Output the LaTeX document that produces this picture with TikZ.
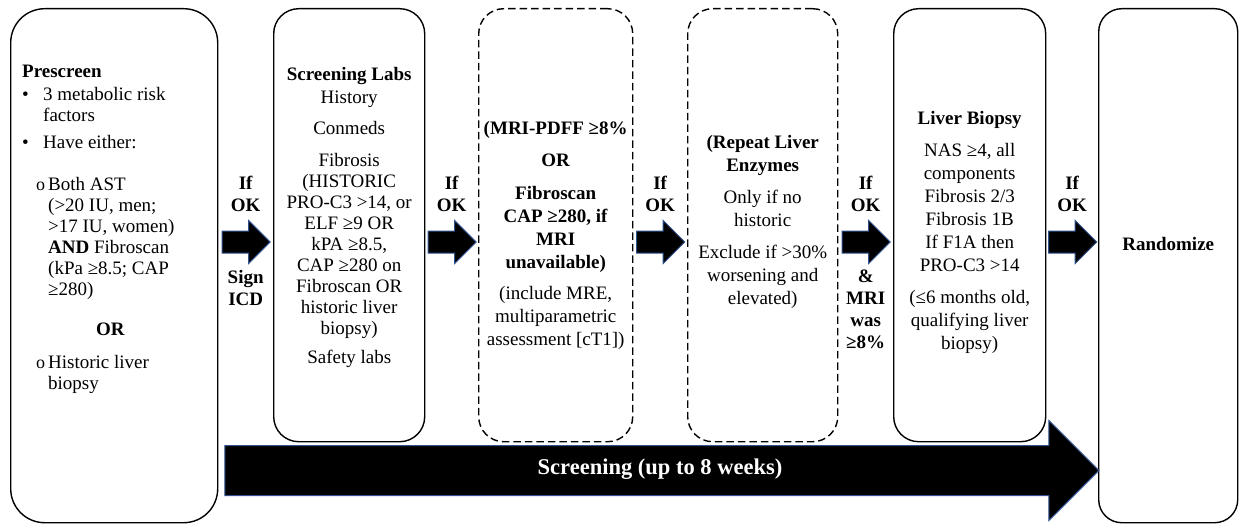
\documentclass[tikz,border=0pt]{standalone}
\usepackage{fontspec}
\setmainfont{Liberation Serif}
\usetikzlibrary{positioning,shapes.arrows,calc}
\definecolor{edgeblue}{HTML}{2F528F}
\tikzset{
  stage/.style={draw, line width=1.4pt, rounded corners=25pt, minimum height=433pt, inner sep=0pt, anchor=north west},
  optional/.style={stage, dash pattern=on 7.5pt off 4pt},
  gate/.style={single arrow, fill=black, draw=edgeblue, line width=1pt, minimum height=48pt, single arrow head extend=10.5pt,
               inner xsep=0pt, inner ysep=10.5pt, anchor=tail},
  body/.style={inner sep=0pt, align=center, font=\fontsize{19}{23}\selectfont, anchor=north},
  cond/.style={inner sep=0pt, align=center, font=\bfseries\fontsize{19}{22}\selectfont},
}
\newcommand{\optitem}{\hspace*{14pt}\makebox[12pt][l]{\fontsize{18}{18}\selectfont o}}
\begin{document}
\begin{tikzpicture}[x=1pt, y=-1pt]
    \useasboundingbox (0,0) rectangle (1241,527);
    % stages
    \node[stage, rounded corners=34pt, minimum width=207pt, minimum height=514pt] (pre) at (10,8) {};
    \node[stage, minimum width=151pt] (labs) at (273,8) {};
    \node[optional, minimum width=154pt] (mri) at (478,8) {};
    \node[optional, minimum width=150pt] (enz) at (687,8) {};
    \node[stage, minimum width=152pt] (bx) at (893,8) {};
    \node[stage, rounded corners=23pt, minimum width=139pt, minimum height=514pt] (rand) at (1098,8) {};
    % texts
    \node[body, font=\fontsize{19}{21}\selectfont, anchor=north west, align=left] (pretxt) at ([xshift=12pt, yshift=-57pt]pre.north west) {%
        \textbf{Prescreen}\\[2pt]
        \makebox[21pt][l]{•}3 metabolic risk\\
        \hspace*{21pt}factors\\[6pt]
        \makebox[21pt][l]{•}Have either:\\[21pt]
        \optitem Both AST\\
        \hspace*{26pt}(>20 IU, men;\\
        \hspace*{26pt}>17 IU, women)\\
        \hspace*{26pt}\textbf{AND} Fibroscan\\
        \hspace*{26pt}(kPa ≥8.5; CAP\\
        \hspace*{26pt}≥280)\\[19pt]
        \hspace*{74pt}\textbf{OR}\\[12pt]
        \optitem Historic liver\\
        \hspace*{26pt}biopsy};
    \node[body, font=\fontsize{19}{21}\selectfont] (labstxt) at ([yshift=-59pt]labs.north) {%
        \textbf{Screening Labs}\\[2pt] History\\[10pt] Conmeds\\[11pt] Fibrosis\\ (HISTORIC\\ PRO-C3 >14, or\\
        ELF ≥9 OR\\ kPA ≥8.5,\\ CAP ≥280 on\\ Fibroscan OR\\ historic liver\\ biopsy)\\[8pt] Safety labs};
    \node[body] (mritxt) at ([yshift=-113pt]mri.north) {%
        \textbf{(MRI-PDFF ≥8\%}\\[9pt] \textbf{OR}\\[10pt] \textbf{Fibroscan}\\ \textbf{CAP ≥280, if}\\
        \textbf{MRI}\\ \textbf{unavailable)}\\[8pt] (include MRE,\\ multiparametric\\ assessment [cT1])};
    \node[body] (enztxt) at ([yshift=-127pt]enz.north) {%
        \textbf{(Repeat Liver}\\ \textbf{Enzymes}\\[9pt] Only if no\\ historic\\[9pt]
        Exclude if >30\%\\ worsening and\\ elevated)};
    \node[body] (bxtxt) at ([yshift=-103pt]bx.north) {%
        \textbf{Liver Biopsy}\\[9pt] NAS ≥4, all\\ components\\ Fibrosis 2/3\\ Fibrosis 1B\\
        If F1A then\\ PRO-C3 >14\\[9pt] (≤6 months old,\\ qualifying liver\\ biopsy)};
    \node[inner sep=0pt, font=\bfseries\fontsize{19}{23}\selectfont] (randtxt) at ([yshift=22pt]rand.center) {Randomize};
    % gates between stages
    \coordinate (row) at (0,242);
    \foreach \a/\b/\n in {pre/labs/g1, labs/mri/g2, mri/enz/g3, enz/bx/g4, bx/rand/g5} {
        \coordinate (m-\n) at ($(\a.east)!.5!(\b.west)$);
        \path (m-\n |- row) ++(-24,0) node[gate] (\n) {};
    }
    \node[cond, above=30pt of m-g1 |- row] (ok1) {If\\OK};
    \node[cond, below=28pt of m-g1 |- row] (icd) {Sign\\ICD};
    \node[cond, above=30pt of m-g2 |- row] (ok2) {If\\OK};
    \node[cond, above=30pt of m-g3 |- row] (ok3) {If\\OK};
    \node[cond, above=30pt of m-g4 |- row] (ok4) {If\\OK};
    \node[cond, below=28pt of m-g4 |- row] (was8) {\&\\MRI\\was\\≥8\%};
    \node[cond, above=30pt of m-g5 |- row] (ok5) {If\\OK};
    % screening period
    \coordinate (runrow) at (0,470.5);
    \path (pre.east |- runrow) ++(6,0) coordinate (runstart);
    \node[single arrow, fill=black, draw=edgeblue, line width=1pt, minimum height=874pt,
          single arrow head extend=25pt, inner xsep=0pt, inner ysep=24.5pt, anchor=tail]
          (run) at (runstart) {};
    \node[inner sep=0pt, text=white, font=\bfseries\fontsize{22.5}{26}\selectfont]
          (runlbl) at ([xshift=-2pt, yshift=1pt]$(run.tail)!.5!(run.tip)$) {Screening (up to 8 weeks)};
\end{tikzpicture}
\end{document}
